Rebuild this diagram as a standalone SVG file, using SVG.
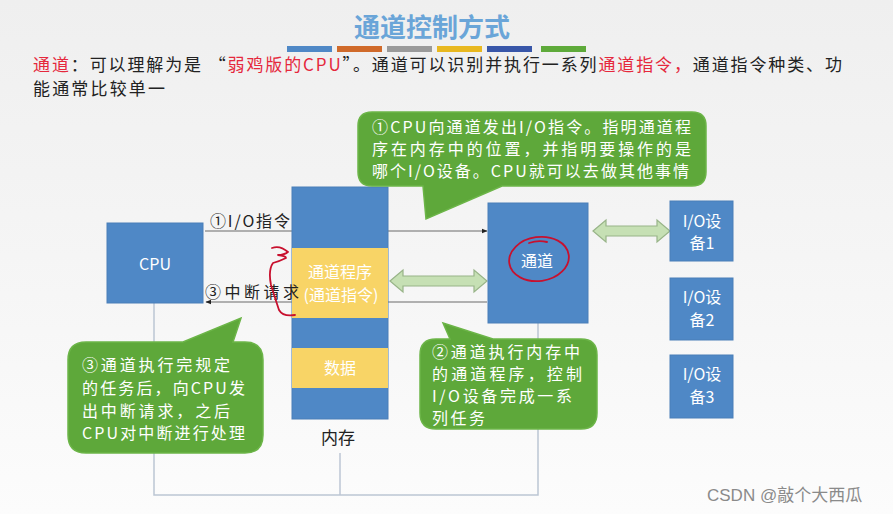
<svg xmlns="http://www.w3.org/2000/svg" width="893" height="514" viewBox="0 0 893 514">
<defs>
<linearGradient id="bg" x1="0" y1="0" x2="0" y2="1">
<stop offset="0" stop-color="#efefef"/>
<stop offset="0.5" stop-color="#f5f5f5"/>
<stop offset="1" stop-color="#fcfcfc"/>
</linearGradient>
<marker id="ah" viewBox="0 0 10 10" refX="9" refY="5" markerWidth="5" markerHeight="5" orient="auto">
<path d="M0,1 L10,5 L0,9 Z" fill="#222"/>
</marker>
<style>
.cjk{font-family:"Noto Sans CJK SC","Liberation Sans",sans-serif}
.box{fill:#4f88c6;stroke:#4a7fb8;stroke-width:1}
.yel{fill:#f8d466}
.wt{fill:#ffffff;font-size:16px}
.bub{fill:#5ea83a;stroke:#6cb548;stroke-width:1.5}
.bt{fill:#ffffff;font-size:16px}
.wire{fill:none;stroke:#bcc6d4;stroke-width:1.5}
.sig{fill:none;stroke:#6a6a6a;stroke-width:1.2}
.dbl{fill:#c6e0b4;stroke:#98b488;stroke-width:1.2}
.red{fill:none;stroke:#c8102e;stroke-width:1.8;stroke-linecap:round;stroke-linejoin:round}
</style>
</defs>
<rect x="0" y="0" width="893" height="514" fill="url(#bg)"/>

<g id="header">
<text x="432" y="37" text-anchor="middle" class="cjk" font-size="26" font-weight="bold" fill="#6aa5d8">通道控制方式</text>
<rect x="287" y="46" width="45" height="6" fill="#4f88c6"/>
<rect x="337" y="46" width="45" height="6" fill="#d06a2a"/>
<rect x="387" y="46" width="45" height="6" fill="#9a9a9a"/>
<rect x="437" y="46" width="45" height="6" fill="#e8b820"/>
<rect x="487" y="46" width="45" height="6" fill="#3856a8"/>
<rect x="541" y="46" width="45" height="6" fill="#5eaa3a"/>
<text x="33" y="71" class="cjk" font-size="17" fill="#222" textLength="809" lengthAdjust="spacing"><tspan fill="#e5283c">通道</tspan>：可以理解为是 “<tspan fill="#e5283c">弱鸡版的CPU</tspan>”。通道可以识别并执行一系列<tspan fill="#e5283c">通道指令，</tspan>通道指令种类、功</text>
<text x="33" y="95" class="cjk" font-size="17" fill="#222" textLength="132" lengthAdjust="spacing">能通常比较单一</text>
</g>

<g id="connectors">
<path class="wire" d="M154,303 V495 H538 V323"/>
<path class="wire" d="M340,453 V495"/>
<line class="sig" x1="205" y1="231" x2="487" y2="231" marker-end="url(#ah)"/>
<line class="sig" x1="487" y1="302" x2="206" y2="302" marker-end="url(#ah)"/>
<path class="dbl" d="M390,281 L403,270 V276 H474 V270 L487,281 L474,292 V286 H403 V292 Z"/>
<path class="dbl" d="M593,231 L606,220 V226 H657 V220 L670,231 L657,242 V236 H606 V242 Z"/>
</g>

<g id="cpu">
<rect class="box" x="107" y="223" width="96" height="80"/>
<text x="155" y="270" text-anchor="middle" class="cjk wt">CPU</text>
</g>

<g id="memory">
<rect class="box" x="292" y="187" width="96" height="232"/>
<rect class="yel" x="292" y="248" width="96" height="70"/>
<rect class="yel" x="292" y="348" width="96" height="40"/>
<text x="340" y="278" text-anchor="middle" class="cjk wt">通道程序</text>
<text x="341" y="301" text-anchor="middle" class="cjk wt">(通道指令)</text>
<text x="340" y="374" text-anchor="middle" class="cjk wt">数据</text>
<text x="338" y="444" text-anchor="middle" class="cjk" font-size="17" fill="#222">内存</text>
</g>

<g id="labels">
<text x="210" y="227" class="cjk" font-size="16" fill="#222" textLength="80" lengthAdjust="spacing">①I/O指令</text>
<text x="205" y="298" class="cjk" font-size="16" fill="#222" textLength="94" lengthAdjust="spacing">③中断请求</text>
</g>

<g id="channel">
<rect class="box" x="488" y="203" width="100" height="120"/>
<text x="537" y="267" text-anchor="middle" class="cjk wt">通道</text>
</g>

<g id="io1">
<rect class="box" x="670" y="201" width="63" height="60"/>
<text x="702" y="227" text-anchor="middle" class="cjk wt">I/O设</text>
<text x="702" y="249" text-anchor="middle" class="cjk wt">备1</text>
</g>
<g id="io2">
<rect class="box" x="670" y="278" width="63" height="62"/>
<text x="702" y="303" text-anchor="middle" class="cjk wt">I/O设</text>
<text x="702" y="326" text-anchor="middle" class="cjk wt">备2</text>
</g>
<g id="io3">
<rect class="box" x="670" y="355" width="63" height="63"/>
<text x="702" y="380" text-anchor="middle" class="cjk wt">I/O设</text>
<text x="702" y="403" text-anchor="middle" class="cjk wt">备3</text>
</g>

<g id="bubble1">
<path class="bub" d="M372,112 H692 Q706,112 706,126 V172 Q706,186 692,186 H502 L426,219 L423,186 H372 Q358,186 358,172 V126 Q358,112 372,112 Z"/>
<text x="372" y="133" class="cjk bt" textLength="319" lengthAdjust="spacing">①CPU向通道发出I/O指令。指明通道程</text>
<text x="372" y="155" class="cjk bt" textLength="319" lengthAdjust="spacing">序在内存中的位置，并指明要操作的是</text>
<text x="372" y="177" class="cjk bt" textLength="317" lengthAdjust="spacing">哪个I/O设备。CPU就可以去做其他事情</text>
</g>

<g id="bubble2">
<path class="bub" d="M436,339 H450 L443,323 L493,339 H581 Q597,339 597,355 V413 Q597,429 581,429 H436 Q420,429 420,413 V355 Q420,339 436,339 Z"/>
<text x="432" y="358" class="cjk bt" textLength="148" lengthAdjust="spacing">②通道执行内存中</text>
<text x="432" y="380" class="cjk bt" textLength="150" lengthAdjust="spacing">的通道程序，控制</text>
<text x="432" y="402" class="cjk bt" textLength="140" lengthAdjust="spacing">I/O设备完成一系</text>
<text x="432" y="424" class="cjk bt" textLength="53" lengthAdjust="spacing">列任务</text>
</g>

<g id="bubble3">
<path class="bub" d="M86,342 H183 L241,318 L233,342 H245 Q263,342 263,360 V435 Q263,453 245,453 H86 Q68,453 68,435 V360 Q68,342 86,342 Z"/>
<text x="82" y="371" class="cjk bt" textLength="148" lengthAdjust="spacing">③通道执行完规定</text>
<text x="82" y="394" class="cjk bt" textLength="163" lengthAdjust="spacing">的任务后，向CPU发</text>
<text x="82" y="417" class="cjk bt" textLength="148" lengthAdjust="spacing">出中断请求，之后</text>
<text x="82" y="439" class="cjk bt" textLength="163" lengthAdjust="spacing">CPU对中断进行处理</text>
</g>

<g id="annotations">
<path class="red" d="M272,248 Q280,245 288,252 Q284,255 278,255 Q286,256 286,258 Q280,261 273,263 Q268,270 271,285 Q275,298 279,310 Q283,317 295,315"/>
<ellipse class="red" cx="539" cy="259" rx="30" ry="22" transform="rotate(-8 539 259)"/>
<path class="red" d="M529,243 Q538,240 547,242"/>
</g>

<text x="707" y="501" font-family="Liberation Sans,Noto Sans CJK SC,sans-serif" font-size="17" fill="#8a8a8a">CSDN @敲个大西瓜</text>
</svg>
